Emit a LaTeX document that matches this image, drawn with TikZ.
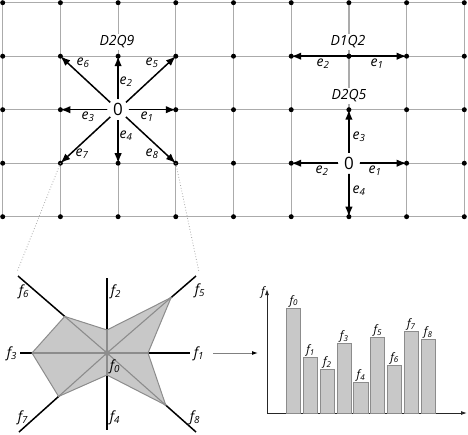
\documentclass[tikz,border=0pt]{standalone}
\usepackage{fontspec}
\setmainfont{Open Sans}
\usetikzlibrary{arrows.meta,calc}
\definecolor{barfill}{HTML}{C8C8C8}
\definecolor{edgegray}{HTML}{8C8C8C}
\definecolor{gridgray}{HTML}{ABABAB}
\begin{document}
\begin{tikzpicture}[x=1pt,y=-1pt,
  gridline/.style={draw=gridgray, line width=1.2pt},
  dotst/.style={circle, fill=black, inner sep=0pt, minimum size=5pt},
  vec/.style={line width=1.5pt, -{Latex[length=10pt,width=7.5pt]}},
  lab/.style={font=\fontsize{14}{16}\selectfont\itshape, inner sep=0.5pt},
  blab/.style={font=\fontsize{11.5}{13}\selectfont\itshape, inner sep=0.5pt, anchor=south},
  zero/.style={circle, fill=white, inner sep=0pt, minimum size=21pt, font=\fontsize{17}{19}\selectfont},
  ttl/.style={fill=white, font=\fontsize{14}{16}\selectfont\itshape, inner sep=2pt},
  axisline/.style={line width=1.5pt, black},
  innerline/.style={line width=1.1pt, edgegray},
  bar/.style={fill=barfill, draw=edgegray, line width=1pt},
  chartaxis/.style={line width=0.9pt, black!85, -{Latex[length=6pt,width=4pt]}},
  zoomline/.style={draw=gray!70, line width=0.8pt, dotted}
]
\useasboundingbox (0,0) rectangle (468,434);

% ---------- lattice grid ----------
\foreach \i in {0,...,8}{
  \foreach \j in {0,...,4}{
    \coordinate (g\i\j) at ({2.7+57.7*\i},{2.7+53.5*\j});
  }
}
\foreach \j in {0,...,4}{ \draw[gridline] (g0\j) -- (g8\j); }
\foreach \i in {0,...,8}{ \draw[gridline] (g\i0) -- (g\i4); }
\foreach \i in {0,...,8}{
  \foreach \j in {0,...,4}{
    \node[dotst] (d\i\j) at (g\i\j) {};
  }
}

% ---------- D2Q9 ----------
\node[ttl] (t9) at (117,42) {D2Q9};
\node[zero] (c9) at (g22) {0};
\foreach \t in {11,21,31,12,32,13,23,33}{
  \draw[vec] (c9) -- (g\t);
}
\node[lab] (e96) at (83,63) {e\textsubscript{6}};
\node[lab] (e92) at (126,82) {e\textsubscript{2}};
\node[lab] (e95) at (152,63) {e\textsubscript{5}};
\node[lab] (e93) at (88,117) {e\textsubscript{3}};
\node[lab] (e91) at (147,117) {e\textsubscript{1}};
\node[lab] (e97) at (82,154) {e\textsubscript{7}};
\node[lab] (e94) at (126,136) {e\textsubscript{4}};
\node[lab] (e98) at (152,154) {e\textsubscript{8}};

% ---------- D1Q2 ----------
\node[ttl] (t12) at (348,42) {D1Q2};
\draw[vec] (g61) -- (g51);
\draw[vec] (g61) -- (g71);
\node[dotst] (c12) at (g61) {};
\node[lab] (e122) at (323,64) {e\textsubscript{2}};
\node[lab] (e121) at (377,64) {e\textsubscript{1}};

% ---------- D2Q5 ----------
\node[ttl] (t25) at (349,96) {D2Q5};
\node[zero] (c25) at (g63) {0};
\draw[vec] (c25) -- (g62);
\draw[vec] (c25) -- (g53);
\draw[vec] (c25) -- (g73);
\draw[vec] (c25) -- (g64);
\node[lab] (e253) at (359,137) {e\textsubscript{3}};
\node[lab] (e252) at (322,171) {e\textsubscript{2}};
\node[lab] (e251) at (375,171) {e\textsubscript{1}};
\node[lab] (e254) at (359,191) {e\textsubscript{4}};

% ---------- zoom lines ----------
\coordinate (zl) at (17,272);
\coordinate (zr) at (199,272);
\draw[zoomline] (g13) -- (zl);
\draw[zoomline] (g33) -- (zr);

% ---------- radar chart ----------
\coordinate (c) at (107,353);
\coordinate (A1) at (190,353);
\coordinate (A2) at (107,278);
\coordinate (A3) at (20,353);
\coordinate (A4) at (107,430);
\coordinate (A5) at (196,276);
\coordinate (A6) at (18,276);
\coordinate (A7) at (19,432);
\coordinate (A8) at (196,432);
\foreach \k in {1,...,8}{ \draw[axisline] (c) -- (A\k); }
\coordinate (V1) at ($(c)!0.494!(A1)$);
\coordinate (V2) at ($(c)!0.307!(A2)$);
\coordinate (V3) at ($(c)!0.862!(A3)$);
\coordinate (V4) at ($(c)!0.286!(A4)$);
\coordinate (V5) at ($(c)!0.72!(A5)$);
\coordinate (V6) at ($(c)!0.475!(A6)$);
\coordinate (V7) at ($(c)!0.55!(A7)$);
\coordinate (V8) at ($(c)!0.66!(A8)$);
\draw[fill=barfill, draw=edgegray, line width=1pt, line join=miter]
  (V1) -- (V5) -- (V2) -- (V6) -- (V3) -- (V7) -- (V4) -- (V8) -- cycle;
\foreach \k in {1,...,8}{ \draw[innerline] (c) -- (V\k); }
\node[circle, fill=edgegray, inner sep=0pt, minimum size=6pt] (cdot) at (c) {};
\node[lab] (f6) at (24,292) {f\textsubscript{6}};
\node[lab] (f2) at (116,292) {f\textsubscript{2}};
\node[lab] (f5) at (200,291) {f\textsubscript{5}};
\node[lab] (f3) at (12,354) {f\textsubscript{3}};
\node[lab] (f1) at (199,354) {f\textsubscript{1}};
\node[lab] (f0) at (115,367) {f\textsubscript{0}};
\node[lab] (f7) at (23,418) {f\textsubscript{7}};
\node[lab] (f4) at (115,418) {f\textsubscript{4}};
\node[lab] (f8) at (195,418) {f\textsubscript{8}};

% ---------- arrow to bar chart ----------
\coordinate (ra) at (213,353);
\coordinate (rb) at (258,353);
\draw[draw=gray, line width=1pt, -{Latex[length=6pt,width=4pt,black]}] (ra) -- (rb);

% ---------- bar chart ----------
\coordinate (O) at (267,413);
\coordinate (Ytop) at (267,289);
\coordinate (Xend) at (467,413);
\draw[chartaxis] (O) -- (Ytop);
\draw[chartaxis] (O) -- (Xend);
\node[font=\fontsize{11.5}{13}\selectfont\itshape, anchor=east, inner sep=1pt] (fy) at (266,292) {f};
\foreach \k/\top in {0/308,1/357.7,2/369.7,3/343.3,4/382.3,5/337.3,6/365,7/331.3,8/339.3}{
  \pgfmathsetmacro{\xl}{286.7+16.8*\k}
  \draw[bar] (\xl,413) rectangle ({\xl+14.2},\top);
  \node[blab] (b\k) at ({\xl+7.1},{\top-0.5}) {f\textsubscript{\k}};
}
\end{tikzpicture}
\end{document}
